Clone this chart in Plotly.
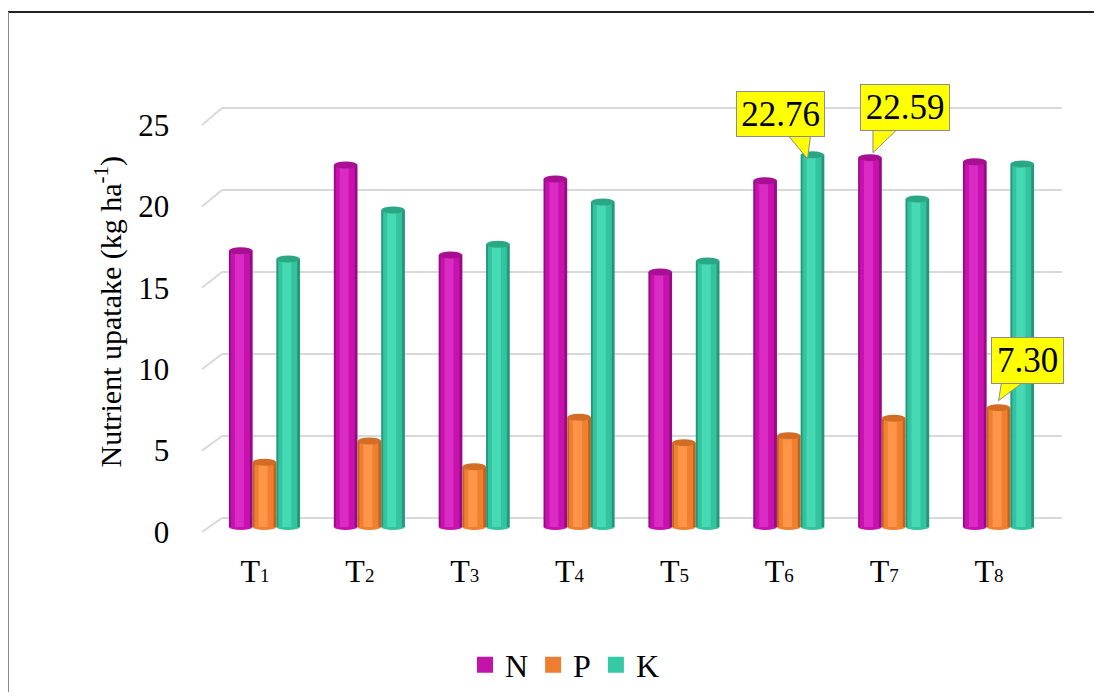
import plotly.graph_objects as go

# ---------------- data ----------------
categories = ["T1", "T2", "T3", "T4", "T5", "T6", "T7", "T8"]
tick_labels = ["T<span style='font-size:19px'>%d</span>" % (i + 1) for i in range(8)]
series_names = ["N", "P", "K"]
N_vals = [16.90, 22.14, 16.64, 21.28, 15.60, 21.18, 22.59, 22.34]
P_vals = [3.96, 5.26, 3.69, 6.71, 5.16, 5.58, 6.65, 7.30]
K_vals = [16.39, 19.39, 17.29, 19.88, 16.27, 22.76, 20.06, 22.20]
y_ticks = [0, 5, 10, 15, 20, 25]
# callouts: (series index, category index, text)
callouts = [(2, 5, "22.76"), (0, 6, "22.59"), (1, 7, "7.30")]

# ---------------- layout / style ----------------
OFF = 8
W, H = 1102 - 2 * OFF, 700 - 2 * OFF
FONT = "'Liberation Serif', 'Times New Roman', Times, serif"

colors = {
    "N": ("#960C84", "#C811AE", "#DA2CC4", "#A80F93"),
    "P": ("#C4631E", "#F07F30", "#FF9548", "#D36D24"),
    "K": ("#23977A", "#33C49F", "#46DAB4", "#2AA885"),
}
legend_cols = {"N": "#C214A8", "P": "#ED7D31", "K": "#36C9A5"}

# callout box geometry in pixels relative to the marked bar top
callout_style = {
    (2, 5): dict(xshift=-32, yshift=41, w=87, h=44, wedge=[(-5, -4), (-24, 19), (-2, 19)]),
    (0, 6): dict(xshift=35, yshift=50, w=88, h=45, wedge=[(3, 5), (3, 28), (27, 28)]),
    (1, 7): dict(xshift=29, yshift=47, w=71, h=45, wedge=[(0, 7), (3, 25), (24, 25)]),
}

def fx(px):
    return (px - OFF) / W

def fy(py):
    return 1 - (py - OFF) / H

back = dict(y0=518, s=16.4)
mid = dict(y0=527, s=16.35)
front = dict(y0=532, s=16.28)

def ydom(g, lo, hi):
    return [fy(g["y0"] - lo * g["s"]), fy(g["y0"] - hi * g["s"])]

def xdom(c0, step, lo=-0.5, hi=7.5):
    return [fx(c0 + lo * step), fx(c0 + hi * step)]

STEP = 104.86
yr = [-0.3, 25.4]
bw = 0.226
bar_px = bw * STEP

fig = go.Figure()

fig.add_trace(go.Scatter(x=[None], y=[None], xaxis="x", yaxis="y",
                         showlegend=False, hoverinfo="skip"))

all_vals = [N_vals, P_vals, K_vals]
layers = [(1.0, 0.0, 0), (0.80, -0.02, 1), (0.38, -0.06, 2)]
for si, name in enumerate(series_names):
    centre = (si - 1) * bw
    for li, (wf, shift, ci) in enumerate(layers):
        w = bw * wf
        off = centre + shift * bw - w / 2
        fig.add_trace(go.Bar(
            x=list(range(len(categories))), y=all_vals[si],
            xaxis="x2", yaxis="y2",
            width=w, offset=off,
            marker=dict(color=colors[name][ci], line=dict(width=0)),
            name=name, showlegend=False, legendgroup=name,
        ))
# legend entries
for name in series_names:
    fig.add_trace(go.Scatter(x=[None], y=[None], xaxis="x2", yaxis="y2", name=name,
                             mode="markers", legendgroup=name,
                             marker=dict(symbol="square", size=16, color=legend_cols[name])))

fig.add_trace(go.Scatter(x=[None], y=[None], xaxis="x3", yaxis="y3",
                         showlegend=False, hoverinfo="skip"))

hidden = dict(showgrid=False, zeroline=False, showline=False, showticklabels=False,
              ticks="", automargin=False)

fig.update_layout(
    template="none",
    width=W, height=H, autosize=False,
    margin=dict(l=0, r=0, t=0, b=0, pad=0, autoexpand=False),
    paper_bgcolor="white", plot_bgcolor="rgba(0,0,0,0)",
    barmode="overlay",
    font=dict(family=FONT, color="black", size=30),
    xaxis=dict(domain=[fx(222), fx(1062)], range=[-0.5, 7.5], anchor="y", **hidden),
    yaxis=dict(domain=ydom(back, *yr), range=yr, anchor="x", automargin=False,
               tickvals=y_ticks, showgrid=True, gridcolor="#D9D9D9", gridwidth=2,
               zeroline=True, zerolinecolor="#D9D9D9", zerolinewidth=2,
               showticklabels=False, ticks="", showline=False),
    xaxis2=dict(domain=xdom(264.5, STEP), range=[-0.5, 7.5], anchor="y2", **hidden),
    yaxis2=dict(domain=ydom(mid, *yr), range=yr, anchor="x2", **hidden),
    xaxis3=dict(domain=xdom(255, STEP), range=[-0.5, 7.5], anchor="y3", automargin=False,
                tickvals=list(range(len(categories))), ticktext=tick_labels,
                showgrid=False, zeroline=False, showline=False,
                ticks="outside", ticklen=6, tickcolor="rgba(0,0,0,0)",
                tickfont=dict(size=32, family=FONT)),
    yaxis3=dict(domain=ydom(front, *yr), range=yr, anchor="x3", automargin=False,
                tickvals=y_ticks, showgrid=False, zeroline=False, showline=False,
                ticks="outside", ticklen=26, tickcolor="rgba(0,0,0,0)",
                tickfont=dict(size=31, family=FONT)),
    legend=dict(orientation="h", x=fx(565), xanchor="center", y=fy(665), yanchor="middle",
                font=dict(size=32, family=FONT), bgcolor="rgba(0,0,0,0)",
                traceorder="normal", itemwidth=30),
)

shapes = []
for v in y_ticks:
    shapes.append(dict(type="line", xref="paper", yref="paper",
                       x0=fx(202), y0=fy(front["y0"] - v * front["s"]),
                       x1=fx(222), y1=fy(back["y0"] - v * back["s"]),
                       line=dict(color="#D9D9D9", width=2)))
shapes.append(dict(type="line", xref="paper", yref="paper", x0=fx(8), x1=1, y0=fy(12), y1=fy(12),
                   line=dict(color="#222222", width=2)))
shapes.append(dict(type="line", xref="paper", yref="paper", x0=fx(8), x1=fx(8), y0=fy(12), y1=0,
                   line=dict(color="#888888", width=2)))

# cylinder tops and rounded bottoms (ellipses anchored at each bar)
half = bar_px / 2
for si, name in enumerate(series_names):
    for ci in range(len(categories)):
        xa = ci + (si - 1) * bw
        shapes.append(dict(type="circle", xref="x2", yref="y2", layer="below",
                           xsizemode="pixel", ysizemode="pixel",
                           xanchor=xa, yanchor=0,
                           x0=-half, x1=half, y0=-3, y1=3,
                           fillcolor=colors[name][1], line=dict(width=0)))
        shapes.append(dict(type="circle", xref="x2", yref="y2",
                           xsizemode="pixel", ysizemode="pixel",
                           xanchor=xa, yanchor=all_vals[si][ci],
                           x0=-half, x1=half, y0=-3.5, y1=3.5,
                           fillcolor=colors[name][3], line=dict(width=0)))

# callout wedges
for si, ci, txt in callouts:
    st = callout_style[(si, ci)]
    pts = st["wedge"]
    path = "M %g,%g L %g,%g L %g,%g Z" % (pts[0][0], pts[0][1], pts[1][0], pts[1][1],
                                          pts[2][0], pts[2][1])
    shapes.append(dict(type="path", xref="x2", yref="y2",
                       xsizemode="pixel", ysizemode="pixel",
                       xanchor=ci + (si - 1) * bw, yanchor=all_vals[si][ci],
                       path=path, fillcolor="#FFFF00",
                       line=dict(color="#8C8C8C", width=1)))
fig.update_layout(shapes=shapes)

annots = [dict(xref="paper", yref="paper", x=fx(87.5), y=fy(311.5), showarrow=False,
               text="Nutrient upatake (kg ha<sup>-1</sup>)", textangle=-90,
               font=dict(size=30, family=FONT))]
for si, ci, txt in callouts:
    st = callout_style[(si, ci)]
    annots.append(dict(xref="x2", yref="y2", x=ci + (si - 1) * bw, y=all_vals[si][ci],
                       text=txt, showarrow=False,
                       xshift=st["xshift"], yshift=st["yshift"],
                       bgcolor="#FFFF00", bordercolor="#8C8C8C", borderwidth=1,
                       width=st["w"] - 2, height=st["h"] - 2,
                       font=dict(size=35, family=FONT, color="black")))
fig.update_layout(annotations=annots)

fig.write_html("out.html", config={"responsive": False})
